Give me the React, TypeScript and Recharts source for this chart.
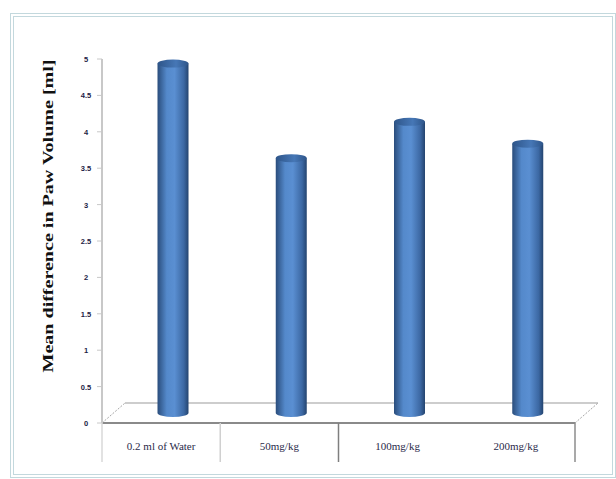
import React from "react";
import { BarChart, Bar, XAxis, YAxis, Customized, Label } from "recharts";

const categories = ["0.2 ml of Water", "50mg/kg", "100mg/kg", "200mg/kg"];
const pawVolumeDiff = [4.8, 3.5, 4.0, 3.7];
const yTicks = [0, 0.5, 1, 1.5, 2, 2.5, 3, 3.5, 4, 4.5, 5];

const data = categories.map((name, i) => ({ name, value: pawVolumeDiff[i] }));

// plot box (page coords) and fake 3d depth of the floor
const W = 616;
const H = 479;
const LEFT = 102;
const RIGHT = 575;
const TOP = 59;
const BOTTOM = 423;
const DX = 23;
const DY = 20;
const BAND = (RIGHT - LEFT) / categories.length;
const SEP_COLORS = ["#d9d9d9", "#d0d0d0", "#7f7f7f", "none"];

function Floor() {
  return (
    <g>
      <defs>
        <linearGradient id="cylBody" x1="0" y1="0" x2="1" y2="0">
          <stop offset="0%" stopColor="#2a4d7c" />
          <stop offset="30%" stopColor="#5489cb" />
          <stop offset="55%" stopColor="#5a8fd2" />
          <stop offset="85%" stopColor="#3c68a3" />
          <stop offset="100%" stopColor="#24446f" />
        </linearGradient>
        <linearGradient id="cylTop" x1="0" y1="0" x2="1" y2="0">
          <stop offset="0%" stopColor="#2e5589" />
          <stop offset="60%" stopColor="#4677b6" />
          <stop offset="100%" stopColor="#2e5589" />
        </linearGradient>
      </defs>
      <polygon
        points={`${LEFT},${BOTTOM} ${LEFT + DX},${BOTTOM - DY} ${RIGHT + DX},${BOTTOM - DY} ${RIGHT},${BOTTOM}`}
        fill="#ffffff"
        stroke="none"
      />
      <line x1={LEFT + DX} y1={BOTTOM - DY} x2={RIGHT + DX} y2={BOTTOM - DY} stroke="#bdbdbd" strokeWidth={1.5} />
      <line x1={LEFT} y1={BOTTOM} x2={LEFT + DX} y2={BOTTOM - DY} stroke="#a6a6a6" strokeWidth={1} strokeDasharray="2 1.5" />
      <line x1={RIGHT} y1={BOTTOM} x2={RIGHT + DX} y2={BOTTOM - DY} stroke="#a6a6a6" strokeWidth={1} strokeDasharray="2 1.5" />
    </g>
  );
}

function Cylinder(props: any) {
  const { x, y, width, height } = props;
  const rx = width / 2;
  const ry = 4;
  const cx = x + rx + DX / 2;
  const top = y - DY / 2;
  const bottom = y + height - DY / 2;
  return (
    <g>
      <path
        d={`M${cx - rx},${top} L${cx - rx},${bottom} A${rx},${ry} 0 0 0 ${cx + rx},${bottom} L${cx + rx},${top} Z`}
        fill="url(#cylBody)"
      />
      <ellipse cx={cx} cy={top} rx={rx} ry={ry} fill="url(#cylTop)" />
    </g>
  );
}

function CategoryTick(props: any) {
  const { x, y, payload, index } = props;
  const left = x - BAND / 2;
  const last = index === categories.length - 1;
  return (
    <g>
      {SEP_COLORS[index] !== "none" && (
        <line x1={left} y1={BOTTOM} x2={left} y2={BOTTOM + 39} stroke={SEP_COLORS[index]} strokeWidth={1.5} />
      )}
      {last && <line x1={left + BAND} y1={BOTTOM} x2={left + BAND} y2={BOTTOM + 39} stroke="#8c8c8c" strokeWidth={1.5} />}
      <text x={x} y={y + 19} textAnchor="middle" fontSize={11} fill="#2a2a4a" fontFamily="Liberation Serif, serif">
        {payload.value}
      </text>
    </g>
  );
}

function ValueTick(props: any) {
  const { y, payload } = props;
  return (
    <text x={86} y={y + 3} textAnchor="middle" fontSize={7.5} fontWeight="bold" fill="#222244" fontFamily="Liberation Sans, sans-serif">
      {payload.value}
    </text>
  );
}

export default function App() {
  return (
    <div style={{ position: "absolute", left: 0, top: 0, width: W, height: H, background: "#fff" }}>
      <div
        style={{
          position: "absolute",
          left: 10,
          top: 13,
          width: 598,
          height: 457,
          border: "4px double #c3d8dd",
        }}
      />
      <div style={{ position: "absolute", left: 0, top: 0 }}>
        <BarChart
          width={W}
          height={H}
          data={data}
          margin={{ top: TOP, right: W - RIGHT, bottom: 0, left: 0 }}
          barSize={31}
        >
          <Customized component={<Floor />} />
          <XAxis
            dataKey="name"
            height={H - BOTTOM}
            axisLine={{ stroke: "#8a8a8a", strokeWidth: 2 }}
            tickLine={false}
            interval={0}
            tick={<CategoryTick />}
          />
          <YAxis
            width={LEFT}
            domain={[0, 5]}
            ticks={yTicks}
            interval={0}
            axisLine={{ stroke: "#c8c8c8", strokeWidth: 2 }}
            tickLine={{ stroke: "#c8c8c8" }}
            tickSize={5}
            tick={<ValueTick />}
          >
            <Label
              content={() => (
                <text
                  transform="translate(53,216) rotate(-90)"
                  textAnchor="middle"
                  fontSize={14}
                  fontWeight="bold"
                  fill="#111"
                  fontFamily="Liberation Serif, serif"
                  textLength={313}
                  lengthAdjust="spacingAndGlyphs"
                >
                  Mean difference in Paw Volume [ml]
                </text>
              )}
            />
          </YAxis>
          <Bar dataKey="value" shape={<Cylinder />} isAnimationActive={false} />
        </BarChart>
      </div>
    </div>
  );
}
